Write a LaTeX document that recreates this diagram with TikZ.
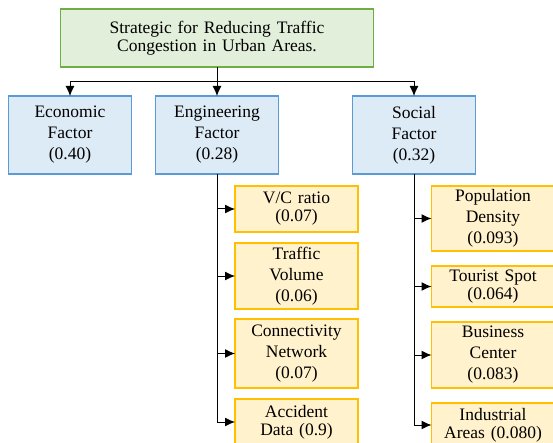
\documentclass[tikz,border=0pt]{standalone}
\usepackage{fontspec}
\setmainfont{Liberation Serif}
\usepackage{tikz}
\usetikzlibrary{arrows.meta,positioning}
\definecolor{goalgreen}{RGB}{226,239,218}
\definecolor{goalborder}{RGB}{112,173,71}
\definecolor{factorblue}{RGB}{221,235,247}
\definecolor{factorborder}{RGB}{91,155,213}
\definecolor{subyellow}{RGB}{255,242,204}
\definecolor{subborder}{RGB}{255,192,0}
\tikzstyle{goalbox} = [rectangle, minimum width=313pt, minimum height=58pt, text width=300pt, outer sep=0pt, align=center, draw=goalborder, fill=goalgreen, line width=1.2pt, font=\fontsize{17.5}{18}\selectfont]
\tikzstyle{factorbox} = [rectangle, minimum width=123pt, minimum height=78pt, text width=114pt, inner sep=2pt, outer sep=0pt, align=center, draw=factorborder, fill=factorblue, line width=1.2pt]
\tikzstyle{subbox} = [rectangle, minimum width=123pt, text width=114pt, inner sep=2pt, outer sep=0pt, align=center, draw=subborder, fill=subyellow, line width=1.2pt]
\tikzstyle{twoline} = [font=\fontsize{17.5}{18}\selectfont]
\tikzstyle{arrow} = [line width=1pt,-{Latex[length=10pt,width=9pt]},color=black]

\begin{document}
\begin{tikzpicture}[font=\fontsize{17.5}{21}\selectfont]
\clip (0,0) rectangle (553pt,-443pt);

% Goal and the three factors
\node[goalbox] (goal) at (217pt,-38pt) {Strategic for Reducing Traffic\\Congestion in Urban Areas.};
\node[factorbox, below=29pt of goal] (eng) {Engineering\\Factor\\(0.28)};
\node[factorbox, left=24pt of eng] (econ) {Economic\\Factor\\(0.40)};
\node[factorbox, right=74pt of eng] (social) {Social\\Factor\\(0.32)};

\coordinate (split) at ([yshift=-15pt]goal.south);
\draw[arrow] (goal.south) -- (eng.north);
\draw[arrow] (split) -| (econ.north);
\draw[arrow] (split) -| (social.north);

% Engineering sub-criteria
\node[subbox, twoline, minimum height=46pt, below right=12pt and 18pt of eng.south] (vc) {V/C ratio\\(0.07)};
\node[subbox, minimum height=66pt, below=11pt of vc] (volume) {Traffic\\Volume\\(0.06)};
\node[subbox, minimum height=69pt, below=10pt of volume] (network) {Connectivity\\Network\\(0.07)};
\node[subbox, twoline, minimum height=46pt, below=11pt of network] (accident) {Accident\\Data (0.9)};

\draw[arrow] (eng.south) |- (vc.west);
\draw[arrow] (eng.south) |- (volume.west);
\draw[arrow] (eng.south) |- (network.west);
\draw[arrow] (eng.south) |- (accident.west);

% Social sub-criteria
\node[subbox, minimum height=65pt, below right=12pt and 17.5pt of social.south] (population) {Population\\Density\\(0.093)};
\node[subbox, twoline, minimum height=41pt, below=15pt of population] (tourist) {Tourist Spot\\(0.064)};
\node[subbox, minimum height=66pt, below=15pt of tourist] (business) {Business\\Center\\(0.083)};
\node[subbox, twoline, minimum height=44pt, below=15pt of business] (industrial) {Industrial\\Areas (0.080)};

\draw[arrow] (social.south) |- (population.west);
\draw[arrow] (social.south) |- (tourist.west);
\draw[arrow] (social.south) |- (business.west);
\draw[arrow] (social.south) |- (industrial.west);
\end{tikzpicture}
\end{document}
